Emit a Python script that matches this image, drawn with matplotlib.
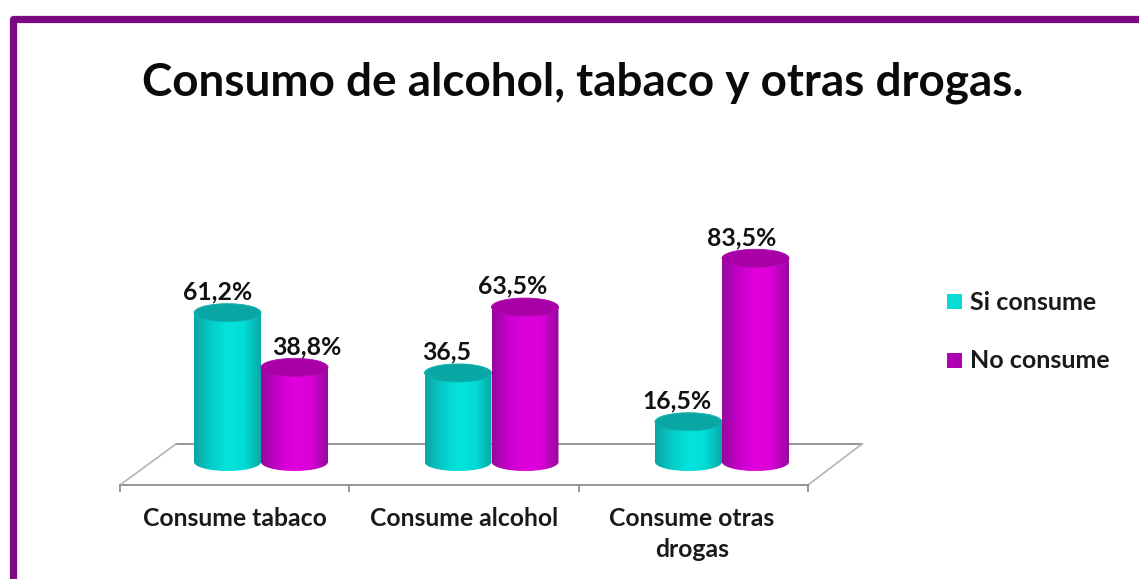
import numpy as np
import matplotlib
matplotlib.use('Agg')
import matplotlib.pyplot as plt
from matplotlib.patches import Ellipse, PathPatch, Rectangle
from matplotlib.path import Path
from matplotlib.colors import LinearSegmentedColormap

# data
categories = ['Consume tabaco', 'Consume alcohol', 'Consume otras\ndrogas']
si_consume = [61.2, 36.5, 16.5]
no_consume = [38.8, 63.5, 83.5]
si_labels = ['61,2%', '36,5', '16,5%']
no_labels = ['38,8%', '63,5%', '83,5%']
series_names = ['Si consume', 'No consume']

plt.rcParams['font.family'] = ['Lato', 'DejaVu Sans']

W, H = 1139, 579
fig = plt.figure(figsize=(W / 100, H / 100), dpi=100, facecolor='white')

# pixel layer for the frame, the floor and the legend
bg = fig.add_axes([0, 0, 1, 1], zorder=0)
bg.set_xlim(0, W)
bg.set_ylim(H, 0)
bg.axis('off')

purple = '#7a0a84'
bg.plot([13, 13, W], [H, 19, 19], color=purple, lw=5.2, solid_joinstyle='round')

grey = '#8c8c8c'
bg.plot([120, 808], [485, 485], color=grey, lw=1.3)
bg.plot([176, 862], [444, 444], color=grey, lw=1.3)
bg.plot([120, 176], [485, 444], color='#b4b4b4', lw=1.2)
bg.plot([808, 862], [485, 444], color='#b4b4b4', lw=1.2)
for tx in [120, 349, 579, 808]:
    bg.plot([tx, tx], [485, 491], color=grey, lw=1.3)

bg.text(582.5, 83, 'Consumo de alcohol, tabaco y otras drogas.', fontsize=33,
        fontweight='bold', ha='center', va='center', color='#0a0a0a')

# chart layer: x in categories, y in percent
px_per_cat = 230.5
px_per_unit = 2.44
x0_px, y0_px = 261, 462
ax = fig.add_axes([0, 0, 1, 1], zorder=1)
ax.patch.set_alpha(0)
ax.axis('off')

teal = LinearSegmentedColormap.from_list('teal', ['#0aa4a4', '#06ccc8', '#02e4dc', '#02dcd6', '#0aa8a8'])
magenta = LinearSegmentedColormap.from_list('mag', ['#960a9c', '#c800cc', '#e200de', '#d800d6', '#960a9e'])
grad = np.linspace(0, 1, 128).reshape(1, -1)

bar_w = 67 / px_per_cat
ry = 9 / px_per_unit


def cylinder(x, value, cmap, top_color, edge_color, z):
    left, right = x, x + bar_w
    k = 0.5523
    cx = (left + right) / 2
    rx = bar_w / 2
    # side of the cylinder with a rounded bottom
    verts = [(left, value), (left, 0), (left, -k * ry), (cx - k * rx, -ry), (cx, -ry),
             (cx + k * rx, -ry), (right, -k * ry), (right, 0), (right, value), (left, value)]
    codes = [Path.MOVETO, Path.LINETO, Path.CURVE4, Path.CURVE4, Path.CURVE4,
             Path.CURVE4, Path.CURVE4, Path.CURVE4, Path.LINETO, Path.CLOSEPOLY]
    side = PathPatch(Path(verts, codes), facecolor='none', edgecolor='none', zorder=z)
    ax.add_patch(side)
    im = ax.imshow(grad, cmap=cmap, extent=[left, right, -ry, value], aspect='auto',
                   zorder=z, interpolation='bilinear')
    im.set_clip_path(side)
    ax.add_patch(Ellipse((cx, value), bar_w, 2 * ry, angle=0, facecolor=top_color,
                         edgecolor=edge_color, lw=0.6, zorder=z + 0.1))


for i in range(len(categories)):
    cylinder(i - bar_w, si_consume[i], teal, '#0aa6a4', '#0ab4b2', 2 + i)
    cylinder(i, no_consume[i], magenta, '#a800a6', '#ae0aae', 2.5 + i)

# value labels
si_dx = [-10, -11, -11]
no_dx = [12, -12, -14]
for i in range(len(categories)):
    ax.text(i - bar_w / 2 + si_dx[i] / px_per_cat, si_consume[i] + 8.5, si_labels[i], fontsize=17.8,
            fontweight='bold', ha='center', va='center', color='#111111', zorder=10)
    ax.text(i + bar_w / 2 + no_dx[i] / px_per_cat, no_consume[i] + 8.5, no_labels[i], fontsize=17.8,
            fontweight='bold', ha='center', va='center', color='#111111', zorder=10)

# category labels
cat_dx = [-26, -27, -30]
for i, name in enumerate(categories):
    ax.text(i + cat_dx[i] / px_per_cat, -18.5, name, fontsize=17.8, fontweight='bold',
            ha='center', va='top', color='#1a1a1a', linespacing=1.42, zorder=10)

ax.set_xlim(-x0_px / px_per_cat, (W - x0_px) / px_per_cat)
ax.set_ylim((y0_px - H) / px_per_unit, y0_px / px_per_unit)

# legend
bg.add_patch(Rectangle((947, 294), 15, 15, facecolor='#08dcd6', edgecolor='none'))
bg.add_patch(Rectangle((947, 353), 15, 15, facecolor='#b000b4', edgecolor='none'))
bg.text(970, 302, series_names[0], fontsize=18, fontweight='bold', va='center', color='#1a1a1a')
bg.text(970, 361, series_names[1], fontsize=18, fontweight='bold', va='center', color='#1a1a1a')

fig.savefig('out.png', dpi=100, facecolor='white')
